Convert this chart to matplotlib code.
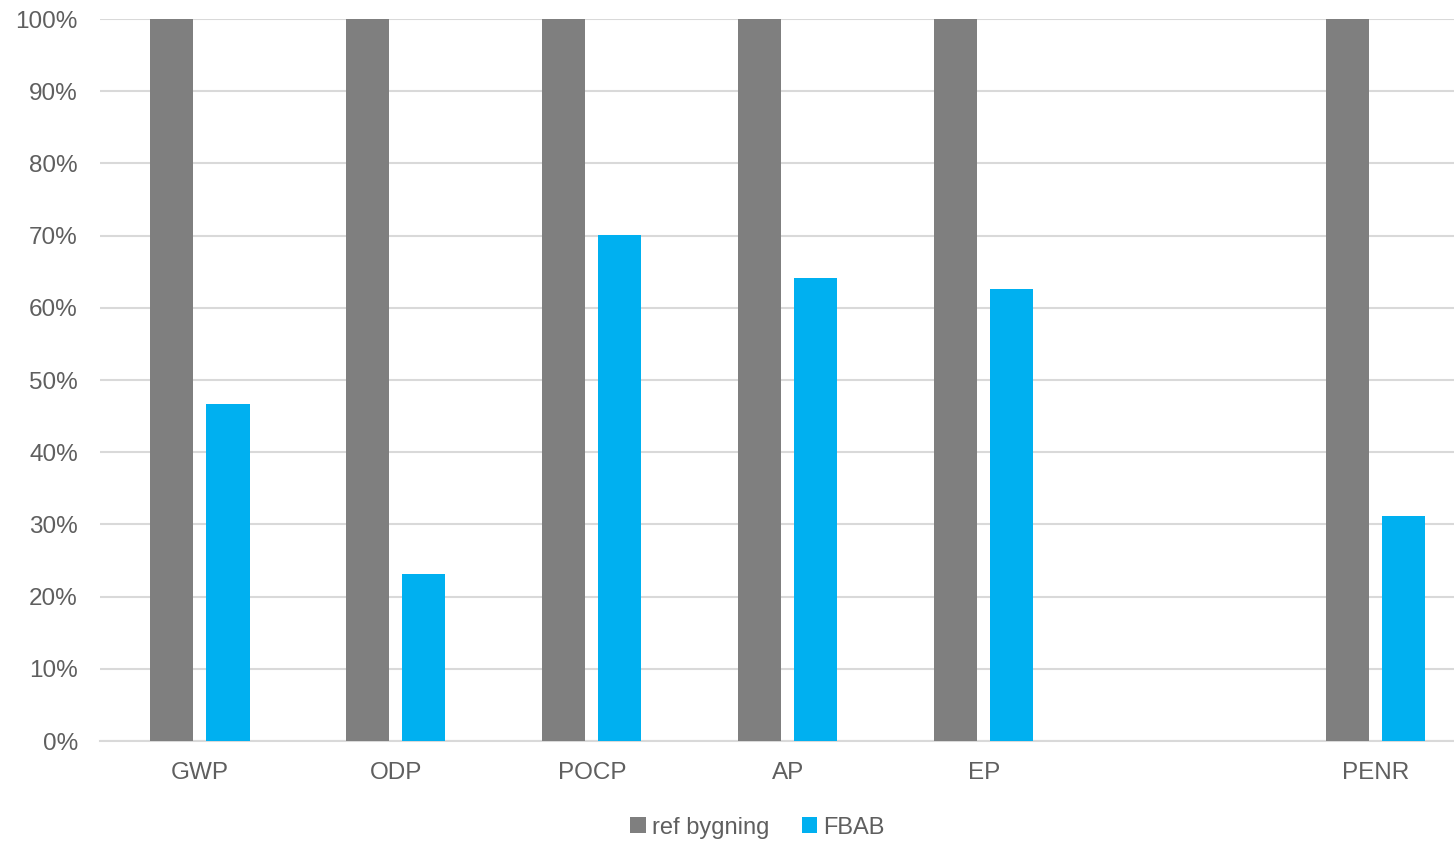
import matplotlib.pyplot as plt
import numpy as np

plt.rcParams['font.family'] = ['Liberation Sans', 'DejaVu Sans']

# Indicators (one slot kept empty before PENR)
categories = ["GWP", "ODP", "POCP", "AP", "EP", "", "PENR"]
ref_bygning = [100, 100, 100, 100, 100, np.nan, 100]
fbab = [46.7, 23.1, 70.1, 64.1, 62.6, np.nan, 31.2]

grey = "#7f7f7f"
blue = "#00b0f0"
txt = "#5f5f5f"

fig = plt.figure(figsize=(14.54, 8.41), dpi=100)
ax = fig.add_axes([0.0688, 0.1189, 0.9312, 0.8585])

x = np.arange(len(categories))
w = 0.22
off = 0.143
ax.bar(x - off, ref_bygning, w, color=grey, label="ref bygning", zorder=3)
ax.bar(x + off, fbab, w, color=blue, label="FBAB", zorder=3)

ax.set_ylim(0, 100)
ax.set_xlim(-0.51, 6.4)
ax.set_yticks(np.arange(0, 101, 10))
ax.set_yticklabels([f"{v}%" for v in range(0, 101, 10)])
ax.set_xticks(x)
ax.set_xticklabels(categories)

ax.grid(axis="y", color="#d9d9d9", linewidth=1.5, zorder=0)
for s in ["top", "right", "left"]:
    ax.spines[s].set_visible(False)
ax.spines["bottom"].set_color("#d9d9d9")
ax.spines["bottom"].set_linewidth(1.5)
ax.tick_params(axis="both", length=0, labelsize=17.5, labelcolor=txt)
ax.tick_params(axis="x", pad=15)
ax.tick_params(axis="y", pad=16)

ax.legend(loc="center", bbox_to_anchor=(0.5 - 0.0688 / 2 + 0.02, -0.12),
          ncol=2, frameon=False, fontsize=17, labelcolor=txt,
          handlelength=0.65, handleheight=0.65, handletextpad=0.25, columnspacing=1.4)

fig.savefig("out.png", dpi=100)
